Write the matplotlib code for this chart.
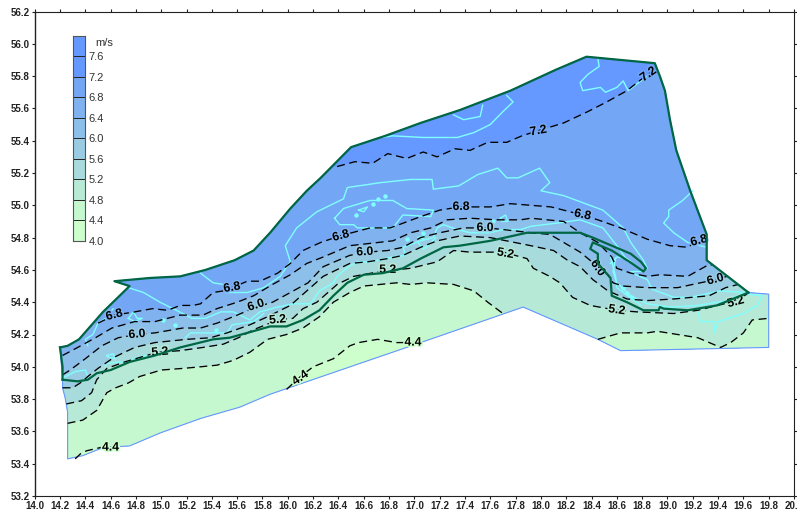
import matplotlib
matplotlib.use("Agg")
import matplotlib.pyplot as plt
import matplotlib.patheffects as pe
from matplotlib.colors import ListedColormap, BoundaryNorm
from matplotlib.patches import Polygon
import numpy as np

plt.rcParams['font.family'] = ['Liberation Sans', 'DejaVu Sans']

# colour key
key_levels = [4.0, 4.4, 4.8, 5.2, 5.6, 6.0, 6.4, 6.8, 7.2, 7.6, 8.0]
key_colors = ['#CCFFCC', '#C6F8CF', '#B6E9D6', '#A8DCDC', '#99CCE3',
              '#8CBFE9', '#7FB2EF', '#73A6F4', '#6699FF', '#6699FF']

# sea area outline
area_lon = [14.20, 14.26, 14.35, 14.54, 14.75, 14.63, 14.91, 15.15, 15.35, 15.58, 15.73, 15.86, 16.02, 16.15, 16.26,
            16.50, 16.77, 17.05, 17.36, 17.76, 18.12, 18.36, 18.90, 18.94, 18.98, 19.02, 19.07, 19.18, 19.31, 19.31,
            19.64, 19.80, 19.80, 18.63, 18.45, 17.86, 17.05, 15.86, 15.62, 15.31, 14.99, 14.75, 14.54, 14.38, 14.26,
            14.26, 14.24, 14.22, 14.22]
area_lat = [54.12, 54.13, 54.17, 54.34, 54.50, 54.53, 54.55, 54.56, 54.60, 54.66, 54.72, 54.83, 54.98, 55.09, 55.17,
            55.36, 55.43, 55.51, 55.59, 55.71, 55.84, 55.92, 55.88, 55.80, 55.71, 55.53, 55.34, 55.09, 54.82, 54.66,
            54.46, 54.45, 54.12, 54.10, 54.17, 54.37, 54.15, 53.83, 53.75, 53.68, 53.59, 53.51, 53.50, 53.45, 53.43,
            53.72, 53.81, 53.87, 53.92]

# thick boundary, north side
north_lon = area_lon[:31]
north_lat = area_lat[:31]
west_lon = [14.20, 14.22, 14.22]
west_lat = [54.12, 54.00, 53.92]

# thick boundary, along the coast
coast_lon = [14.22, 14.34, 14.42, 14.49, 14.60, 14.75, 14.95, 15.15, 15.41, 15.54, 15.68, 15.86, 15.99, 16.12, 16.25,
             16.36, 16.47, 16.60, 16.75, 16.91, 17.05, 17.23, 17.36, 17.60, 17.89, 18.31, 18.41, 18.71, 18.79, 18.83,
             18.81, 18.72, 18.56, 18.41, 18.39, 18.45, 18.45, 18.55, 18.56, 18.68, 18.81, 18.93, 18.94, 18.97, 19.16,
             19.39, 19.64]
coast_lat = [53.92, 53.91, 53.92, 53.96, 53.98, 54.03, 54.07, 54.12, 54.17, 54.18, 54.21, 54.25, 54.25, 54.29, 54.35,
             54.44, 54.52, 54.57, 54.58, 54.61, 54.67, 54.74, 54.75, 54.78, 54.83, 54.83, 54.80, 54.70, 54.65, 54.61,
             54.59, 54.64, 54.72, 54.77, 54.73, 54.70, 54.64, 54.55, 54.44, 54.40, 54.35, 54.35, 54.37, 54.36, 54.35,
             54.38, 54.46]

# isolines, digitised west to east
c72_lon = [16.39, 16.53, 16.67, 16.79, 16.94, 17.07, 17.18, 17.32, 17.44, 17.58, 17.73, 17.85, 17.97, 18.18, 18.37,
           18.52, 18.68, 18.81, 18.90]
c72_lat = [55.24, 55.27, 55.26, 55.32, 55.29, 55.33, 55.30, 55.35, 55.34, 55.39, 55.39, 55.43, 55.46, 55.51, 55.58,
           55.64, 55.71, 55.79, 55.84]

c68_lon = [14.50, 14.63, 14.79, 14.93, 15.05, 15.15, 15.25, 15.31, 15.41, 15.49, 15.56, 15.68, 15.78, 15.92, 16.02,
           16.12, 16.26, 16.41, 16.65, 16.81, 17.05, 17.20, 17.36, 17.60, 17.76, 17.92, 18.08, 18.18, 18.33, 18.45,
           18.63, 18.84, 19.02, 19.16, 19.24, 19.31]
c68_lat = [54.27, 54.32, 54.34, 54.36, 54.35, 54.38, 54.38, 54.39, 54.46, 54.47, 54.49, 54.53, 54.53, 54.58, 54.64,
           54.72, 54.77, 54.81, 54.86, 54.86, 54.93, 54.97, 54.99, 54.99, 55.01, 55.00, 54.99, 54.97, 54.94, 54.91,
           54.86, 54.79, 54.75, 54.74, 54.78, 54.82]

c64_lon = [14.22, 14.34, 14.48, 14.61, 14.79, 14.95, 15.15, 15.33, 15.44, 15.60, 15.73, 15.88, 16.02, 16.15, 16.28,
           16.49, 16.83, 16.97, 17.13, 17.26, 17.44, 17.65, 17.84, 17.92, 18.18, 18.31, 18.45, 18.56, 18.60, 18.71,
           18.84, 18.94, 19.16, 19.32, 19.35]
c64_lat = [54.07, 54.12, 54.18, 54.24, 54.28, 54.28, 54.32, 54.32, 54.36, 54.40, 54.44, 54.51, 54.57, 54.64, 54.68,
           54.75, 54.78, 54.83, 54.86, 54.91, 54.92, 54.91, 54.91, 54.92, 54.90, 54.83, 54.77, 54.68, 54.61, 54.58,
           54.56, 54.57, 54.56, 54.63, 54.63]

c60_lon = [14.22, 14.28, 14.40, 14.53, 14.66, 14.81, 14.95, 15.17, 15.31, 15.44, 15.60, 15.75, 15.88, 16.02, 16.16,
           16.28, 16.49, 16.63, 16.79, 16.91, 17.05, 17.20, 17.39, 17.58, 17.70, 17.92, 18.07, 18.18, 18.31, 18.45,
           18.53, 18.57, 18.65, 18.84, 19.08, 19.20, 19.38, 19.47]
c60_lat = [53.95, 53.98, 54.05, 54.13, 54.18, 54.20, 54.21, 54.24, 54.24, 54.27, 54.32, 54.37, 54.40, 54.46, 54.52,
           54.62, 54.69, 54.71, 54.72, 54.74, 54.80, 54.83, 54.86, 54.86, 54.85, 54.83, 54.82, 54.77, 54.71, 54.62,
           54.57, 54.52, 54.50, 54.49, 54.49, 54.51, 54.54, 54.56]

c56_lon = [14.22, 14.30, 14.36, 14.42, 14.50, 14.63, 14.79, 14.95, 15.20, 15.39, 15.52, 15.70, 15.84, 16.02, 16.15,
           16.28, 16.49, 16.63, 16.79, 16.91, 17.05, 17.18, 17.36, 17.60, 17.92, 18.10, 18.21, 18.31, 18.41, 18.53,
           18.68, 18.84, 19.05, 19.33, 19.46, 19.56]
c56_lat = [53.87, 53.87, 53.90, 53.94, 53.99, 54.06, 54.12, 54.15, 54.17, 54.18, 54.21, 54.26, 54.31, 54.38, 54.47,
           54.56, 54.64, 54.65, 54.67, 54.69, 54.74, 54.78, 54.81, 54.80, 54.75, 54.72, 54.66, 54.62, 54.54, 54.47,
           54.42, 54.41, 54.42, 54.44, 54.49, 54.51]

c52_lon = [14.25, 14.37, 14.45, 14.49, 14.57, 14.71, 14.97, 15.15, 15.33, 15.49, 15.61, 15.73, 15.92, 16.04, 16.12,
           16.23, 16.39, 16.52, 16.73, 16.97, 17.18, 17.31, 17.44, 17.70, 17.89, 17.94, 18.07, 18.15, 18.25, 18.39,
           18.60, 18.76, 19.05, 19.24, 19.50, 19.63]
c52_lat = [53.77, 53.79, 53.84, 53.92, 53.99, 54.03, 54.09, 54.10, 54.12, 54.14, 54.18, 54.23, 54.29, 54.30, 54.36,
           54.40, 54.51, 54.56, 54.59, 54.61, 54.65, 54.72, 54.71, 54.71, 54.67, 54.61, 54.56, 54.52, 54.43, 54.38,
           54.35, 54.34, 54.33, 54.35, 54.40, 54.45]

c48w_lon = [14.26, 14.38, 14.49, 14.57, 14.64, 14.74, 14.83, 15.00, 15.17, 15.31, 15.44, 15.57, 15.70, 15.84, 15.99,
            16.12, 16.25, 16.36, 16.49, 16.60, 16.73, 16.86, 16.97, 17.10, 17.31, 17.47, 17.58, 17.70]
c48w_lat = [53.65, 53.67, 53.73, 53.84, 53.87, 53.90, 53.94, 53.98, 53.99, 54.00, 54.01, 54.04, 54.09, 54.17, 54.20,
            54.24, 54.31, 54.40, 54.46, 54.50, 54.51, 54.52, 54.51, 54.52, 54.51, 54.47, 54.40, 54.33]
c48e_lon = [18.45, 18.63, 18.84, 18.92, 19.08, 19.24, 19.42, 19.50, 19.60, 19.67, 19.80]
c48e_lat = [54.17, 54.21, 54.21, 54.22, 54.20, 54.18, 54.12, 54.15, 54.21, 54.29, 54.30]

c44w_lon = [14.32, 14.36, 14.41, 14.52, 14.60, 14.66]
c44w_lat = [53.43, 53.46, 53.48, 53.50, 53.50, 53.50]
c44m_lon = [15.99, 16.10, 16.20, 16.36, 16.49, 16.56, 16.71, 16.86, 16.99, 17.05]
c44m_lat = [53.86, 53.94, 54.00, 54.05, 54.13, 54.15, 54.17, 54.15, 54.15, 54.15]

# light shoal lines
sh1_lon = [14.74, 14.86, 14.99, 15.17, 15.24, 15.35, 15.47, 15.57, 15.70, 15.78, 15.92, 16.04, 16.18, 16.25, 16.36,
           16.39, 16.48, 16.55, 16.65, 16.83, 16.93, 16.91, 17.05, 17.15, 17.18, 17.23, 17.34, 17.44, 17.60, 17.70,
           17.84, 17.92, 18.13, 18.31, 18.49, 18.61, 18.69]
sh1_lat = [54.49, 54.46, 54.40, 54.33, 54.30, 54.30, 54.34, 54.34, 54.29, 54.34, 54.37, 54.39, 54.39, 54.47, 54.52,
           54.56, 54.62, 54.65, 54.65, 54.68, 54.69, 54.74, 54.78, 54.80, 54.86, 54.88, 54.85, 54.83, 54.83, 54.85,
           54.85, 54.87, 54.89, 54.91, 54.86, 54.74, 54.65]
sh2_lon = [15.31, 15.41, 15.49, 15.51, 15.68, 15.81, 15.94, 16.02, 15.98, 16.07, 16.23, 16.44, 16.47, 16.73, 16.97,
           17.14, 17.15, 17.35, 17.50, 17.66, 17.73, 17.82, 17.99, 18.07, 18.00, 18.18, 18.49, 18.65, 18.71, 18.81,
           18.84, 18.80, 18.71, 18.75, 18.84, 18.88, 19.05, 19.18, 19.42, 19.63]
sh2_lat = [54.58, 54.52, 54.51, 54.46, 54.46, 54.49, 54.56, 54.65, 54.75, 54.86, 54.96, 55.04, 55.11, 55.14, 55.16,
           55.16, 55.10, 55.12, 55.19, 55.23, 55.17, 55.17, 55.23, 55.14, 55.09, 55.06, 54.97, 54.86, 54.77, 54.66,
           54.61, 54.59, 54.59, 54.57, 54.54, 54.48, 54.43, 54.43, 54.47, 54.46]
sh3_lon = [18.55, 18.60, 18.68, 18.76]
sh3_lat = [54.64, 54.68, 54.67, 54.62]
sh4_lon = [18.59, 18.57, 18.60, 18.71, 18.84, 19.02, 19.24, 19.47, 19.60]
sh4_lat = [54.67, 54.59, 54.52, 54.44, 54.39, 54.37, 54.38, 54.41, 54.46]
sh5_lon = [18.55, 18.59, 18.60, 18.79]
sh5_lat = [54.68, 54.56, 54.49, 54.38]
sh6_lon = [19.24, 19.26, 19.38, 19.37, 19.40, 19.60, 19.71, 19.75, 19.63]
sh6_lat = [54.34, 54.28, 54.28, 54.21, 54.28, 54.33, 54.38, 54.44, 54.45]
sh7_lon = [19.20, 19.12, 19.01, 19.01, 18.97, 19.05, 19.16, 19.31]
sh7_lat = [55.09, 55.03, 54.97, 54.93, 54.89, 54.83, 54.77, 54.74]
sh8_lon = [18.45, 18.46, 18.37, 18.31, 18.33, 18.47, 18.51, 18.60, 18.65, 18.69, 18.89]
sh8_lat = [55.91, 55.86, 55.81, 55.76, 55.71, 55.73, 55.70, 55.73, 55.77, 55.71, 55.83]
sh9_lon = [17.73, 17.78, 17.70, 17.60, 17.47, 17.34, 17.07, 16.83, 16.73]
sh9_lat = [55.68, 55.64, 55.58, 55.50, 55.45, 55.42, 55.42, 55.43, 55.42]
sh10_lon = [17.31, 17.39, 17.52, 17.54]
sh10_lat = [55.56, 55.53, 55.55, 55.62]
sh11_lon = [14.42, 14.40, 14.46, 14.50, 14.56, 14.60, 14.62]
sh11_lat = [54.13, 54.17, 54.20, 54.27, 54.30, 54.34, 54.36]
sh12_lon = [14.22, 14.32, 14.40, 14.42, 14.40]
sh12_lat = [53.93, 53.97, 53.98, 53.94, 53.93]
sh13_lon = [14.56, 14.56, 14.67, 14.74, 14.82, 14.89]
sh13_lat = [53.99, 54.02, 54.03, 54.03, 54.06, 54.07]
sh14_lon = [15.19, 15.23, 15.31, 15.39, 15.52, 15.56, 15.73, 15.81]
sh14_lat = [54.18, 54.21, 54.21, 54.21, 54.21, 54.26, 54.28, 54.33]
sh15_lon = [17.03, 17.07, 17.11, 17.17]
sh15_lat = [54.77, 54.73, 54.75, 54.80]

# closed shoals
isl1_lon = [16.37, 16.44, 16.65, 16.83, 16.94, 17.15, 17.13, 16.91, 16.83, 16.65, 16.55, 16.52, 16.41, 16.37]
isl1_lat = [54.92, 54.98, 55.03, 55.03, 54.98, 54.97, 54.93, 54.94, 54.86, 54.86, 54.86, 54.88, 54.88, 54.92]
isl2_lon = [16.56, 16.63, 16.60, 16.56]
isl2_lat = [54.97, 54.99, 54.96, 54.97]
isl3_lon = [17.68, 17.72, 17.74, 17.69, 17.68]
isl3_lat = [54.92, 54.94, 54.90, 54.90, 54.92]
isl4_lon = [14.57, 14.62, 14.64, 14.58, 14.57]
isl4_lat = [54.07, 54.08, 54.05, 54.06, 54.07]
isl5_lon = [14.74, 14.78, 14.81, 14.85, 14.79, 14.74]
isl5_lat = [54.30, 54.34, 54.30, 54.30, 54.28, 54.30]
isl6_lon = [14.66, 14.70, 14.67, 14.65, 14.66]
isl6_lat = [54.35, 54.33, 54.31, 54.33, 54.35]
isl7_lon = [17.03, 17.08, 17.07, 17.03]
isl7_lat = [54.80, 54.81, 54.79, 54.80]

dot_lon = [16.77, 16.71, 16.67, 16.54, 16.94, 17.07, 17.62, 15.01, 15.11, 15.43, 18.65, 18.68, 18.71]
dot_lat = [55.06, 55.04, 55.01, 54.94, 54.79, 54.83, 54.90, 54.29, 54.26, 54.23, 54.49, 54.46, 54.43]

# isoline labels
label_text = ['4.4', '4.4', '4.4', '5.2', '5.2', '5.2', '5.2', '5.2', '5.2',
              '6.0', '6.0', '6.0', '6.0', '6.0', '6.0',
              '6.8', '6.8', '6.8', '6.8', '6.8', '6.8', '7.2', '7.2']
label_lon = [14.60, 16.10, 16.99, 14.99, 15.92, 16.79, 17.72, 18.60, 19.54,
             14.81, 15.75, 16.61, 17.56, 18.45, 19.38,
             14.63, 15.56, 16.42, 17.37, 18.33, 19.25, 17.98, 18.85]
label_lat = [53.50, 53.93, 54.15, 54.09, 54.29, 54.60, 54.70, 54.35, 54.40,
             54.20, 54.38, 54.71, 54.86, 54.61, 54.54,
             54.32, 54.49, 54.81, 54.99, 54.94, 54.78, 55.46, 55.81]
label_rot = [0, 35, 0, 5, 5, 0, -10, -8, 15,
             5, 18, 3, 0, -55, 15,
             15, 10, 15, 0, -12, 15, 10, 35]

XMIN, XMAX = 14.0, 20.0
YMIN, YMAX = 53.2, 56.2
GREEN = '#006644'
SHOAL = '#80FFFF'


def below_contour(lon: list, lat: list, west="side", east="side"):
    """ Closed polygon of everything south of an isoline.

    :param west, east - "side" runs out to the frame, "down" drops straight south
    """
    xs, ys = list(lon), list(lat)
    if east == "side":
        xs += [XMAX, XMAX]
        ys += [lat[-1], YMIN]
    else:
        xs += [lon[-1]]
        ys += [YMIN]
    if west == "side":
        xs += [XMIN, XMIN]
        ys += [YMIN, lat[0]]
    else:
        xs += [lon[0]]
        ys += [YMIN]
    return np.column_stack([xs, ys])


fig = plt.figure(figsize=(7.97, 5.13), dpi=100)
ax = fig.add_axes([34.7 / 797, (513 - 496) / 513, (794 - 34.7) / 797, (496 - 11.5) / 513])
ax.set_xlim(XMIN, XMAX)
ax.set_ylim(YMIN, YMAX)

area = Polygon(np.column_stack([area_lon, area_lat]), closed=True, facecolor=key_colors[8], edgecolor='none', zorder=1)
ax.add_patch(area)

# paint the bands from the deep water southwards
bands = [(c72_lon, c72_lat, 7, "side", "side"),
         (c68_lon, c68_lat, 6, "side", "side"),
         (c64_lon, c64_lat, 5, "side", "side"),
         (c60_lon, c60_lat, 4, "side", "side"),
         (c56_lon, c56_lat, 3, "side", "side"),
         (c52_lon, c52_lat, 2, "side", "side"),
         (c48w_lon, c48w_lat, 1, "side", "down"),
         (c48e_lon, c48e_lat, 1, "down", "side"),
         (c44w_lon, c44w_lat, 0, "down", "down"),
         (c44m_lon, c44m_lat, 0, "down", "down")]
for i, (lon, lat, color_idx, west, east) in enumerate(bands):
    patch = Polygon(below_contour(lon, lat, west, east), closed=True, facecolor=key_colors[color_idx],
                    edgecolor='none', zorder=1 + 0.01 * (i + 1))
    ax.add_patch(patch)
    patch.set_clip_path(area)

ax.plot(area_lon + area_lon[:1], area_lat + area_lat[:1], color='#6699FF', lw=0.8, zorder=2)

shoals = [(sh1_lon, sh1_lat), (sh2_lon, sh2_lat), (sh3_lon, sh3_lat), (sh4_lon, sh4_lat), (sh5_lon, sh5_lat),
          (sh6_lon, sh6_lat), (sh7_lon, sh7_lat), (sh8_lon, sh8_lat), (sh9_lon, sh9_lat), (sh10_lon, sh10_lat),
          (sh11_lon, sh11_lat), (sh12_lon, sh12_lat), (sh13_lon, sh13_lat), (sh14_lon, sh14_lat), (sh15_lon, sh15_lat),
          (isl1_lon, isl1_lat), (isl2_lon, isl2_lat), (isl3_lon, isl3_lat), (isl4_lon, isl4_lat), (isl5_lon, isl5_lat),
          (isl6_lon, isl6_lat), (isl7_lon, isl7_lat)]
for lon, lat in shoals:
    ax.plot(lon, lat, color=SHOAL, lw=1.0, zorder=3)
ax.plot(dot_lon, dot_lat, ls='none', marker='o', ms=2.2, color=SHOAL, zorder=3)

for lon, lat, _, _, _ in bands:
    ax.plot(lon, lat, color='black', lw=0.95, ls=(0, (6, 3.5)), zorder=4)

label_band = {'4.4': 0, '5.2': 2, '6.0': 4, '6.8': 6, '7.2': 7}
for text, lon, lat, rot in zip(label_text, label_lon, label_lat, label_rot):
    ax.text(lon, lat, text, fontsize=8.8, fontweight='bold', color='black', rotation=rot, ha='center', va='center',
            rotation_mode='anchor', zorder=4.5,
            path_effects=[pe.withStroke(linewidth=2.2, foreground=key_colors[label_band[text]])])

# thick boundary goes over the labels
ax.plot(north_lon, north_lat, color=GREEN, lw=1.6, zorder=5, solid_joinstyle='round')
ax.plot(west_lon, west_lat, color=GREEN, lw=1.6, zorder=5)
ax.plot(coast_lon, coast_lat, color=GREEN, lw=1.6, zorder=5, solid_joinstyle='round')

ax.set_xticks(np.arange(14.0, 20.01, 0.2))
ax.set_yticks(np.arange(53.2, 56.21, 0.2))
ax.set_xticklabels([f"{v:.1f}" for v in np.arange(14.0, 20.01, 0.2)])
ax.set_yticklabels([f"{v:.1f}" for v in np.arange(53.2, 56.21, 0.2)])
ax.tick_params(axis='both', direction='out', length=2.2, width=0.8, color='#222222', pad=1.5, labelsize=7,
               labelcolor='#222222', top=True, right=True)
for label in ax.get_xticklabels() + ax.get_yticklabels():
    label.set_fontweight('bold')
for spine in ax.spines.values():
    spine.set_linewidth(0.8)
    spine.set_color('#222222')
ax.spines['left'].set_linewidth(1.0)

# colour key as its own small axes
cax = fig.add_axes([72.5 / 797, (513 - 241) / 513, 12.5 / 797, 205.5 / 513])
cmap = ListedColormap(key_colors)
norm = BoundaryNorm(key_levels, cmap.N)
mesh = cax.pcolormesh([0, 1], key_levels, np.array(key_levels[:-1]).reshape(-1, 1) + 0.01, cmap=cmap, norm=norm)
for level in key_levels[1:-1]:
    cax.axhline(level, color='#222222', lw=0.7)
cax.set_ylim(key_levels[0], key_levels[-1])
cax.set_xticks([])
cax.yaxis.tick_right()
cax.set_yticks(key_levels[:-1])
cax.set_yticklabels([f"{v:.1f}" for v in key_levels[:-1]])
cax.tick_params(axis='y', length=0, pad=2.5, labelsize=8, labelcolor='#333333')
for spine in cax.spines.values():
    spine.set_linewidth(0.8)
    spine.set_color('#555555')
cax.text(1.8, 7.85, "m/s", fontsize=8, color='#333333', ha='left', va='center', clip_on=False)

fig.savefig("out.png", dpi=100)
